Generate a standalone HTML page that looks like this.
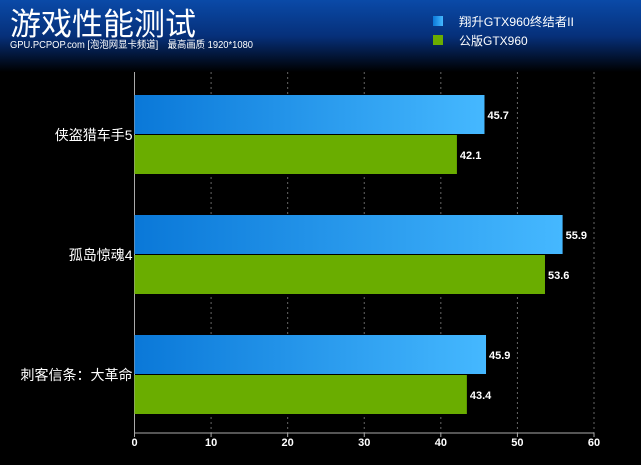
<!DOCTYPE html>
<html><head><meta charset="utf-8"><style>
body{margin:0;width:641px;height:460px;overflow:hidden;background:#000;font-family:"Liberation Sans","Noto Sans CJK SC",sans-serif}
</style></head><body>
<svg id="c" width="641" height="460" xmlns="http://www.w3.org/2000/svg">
<defs>
<linearGradient id="hdr" x1="0" y1="0" x2="0" y2="1"><stop offset="0" stop-color="#0a4aa8"/><stop offset="0.5" stop-color="#06307a"/><stop offset="1" stop-color="#000"/></linearGradient>
<linearGradient id="blue" x1="0" y1="0" x2="1" y2="0"><stop offset="0" stop-color="#0a78d8"/><stop offset="1" stop-color="#45b8ff"/></linearGradient>
</defs>
<rect x="0" y="0" width="641" height="72" fill="url(#hdr)"/>
<text x="10" y="35" fill="#fff" font-size="31">游戏性能测试</text>
<text x="10" y="48" fill="#fff" font-size="10" textLength="243" lengthAdjust="spacingAndGlyphs">GPU.PCPOP.com [泡泡网显卡频道]　最高画质 1920*1080</text>
<rect x="433" y="16" width="10" height="10" fill="url(#blue)"/>
<text x="459" y="26" fill="#fff" font-size="12" textLength="115" lengthAdjust="spacingAndGlyphs">翔升GTX960终结者II</text>
<rect x="433" y="35" width="10" height="10" fill="#6aad00"/>
<text x="459" y="45" fill="#fff" font-size="12">公版GTX960</text>
<g id="plot"></g>
</svg>
<script>
const categories=["侠盗猎车手5","孤岛惊魂4","刺客信条：大革命"];
const seriesA=[45.7,55.9,45.9];
const seriesB=[42.1,53.6,43.4];
const ticks=[0,10,20,30,40,50,60];
const x0=134.5,x1=594,maxV=60,axisY=433;
const xs=v=>x0+v/maxV*(x1-x0);
const g=document.getElementById('plot');
const NS="http://www.w3.org/2000/svg";
function mk(t,a){const e=document.createElementNS(NS,t);for(const k in a)e.setAttribute(k,a[k]);g.appendChild(e);return e;}
ticks.forEach((t,i)=>{
 if(i>0){const l=mk('line',{x1:xs(t),x2:xs(t),y1:72,y2:axisY,stroke:'#666','stroke-dasharray':'2,3'});
 
 }
 const tk=mk('line',{x1:xs(t),x2:xs(t),y1:axisY,y2:axisY+4,stroke:'#aaa'});
 
 
 const tx=mk('text',{x:xs(t),y:axisY+13,fill:'#fff','font-size':11,'font-weight':'bold','text-anchor':'middle'});
 tx.textContent=t;
 
 
});
const ax=mk('line',{x1:x0,x2:x1,y1:axisY,y2:axisY,stroke:'#aaa'});


const ay=mk('line',{x1:x0,x2:x0,y1:72,y2:axisY,stroke:'#aaa'});


categories.forEach((c,i)=>{
 const top=95+i*120;
 const b=mk('rect',{x:x0,y:top,width:xs(seriesA[i])-x0,height:39,fill:'url(#blue)'});
 
 
 const gb=mk('rect',{x:x0,y:top+40,width:xs(seriesB[i])-x0,height:39,fill:'#6aad00'});
 
 
 const la=mk('text',{x:xs(seriesA[i])+3,y:top+24,fill:'#fff','font-size':11,'font-weight':'bold'});
 la.textContent=seriesA[i];
 
 
 const lb=mk('text',{x:xs(seriesB[i])+3,y:top+64,fill:'#fff','font-size':11,'font-weight':'bold'});
 lb.textContent=seriesB[i];
 
 
 const cl=mk('text',{x:x0-2,y:top+45,fill:'#fff','font-size':14,'text-anchor':'end'});
 cl.textContent=c;
 
 
});
</script>
</body></html>
